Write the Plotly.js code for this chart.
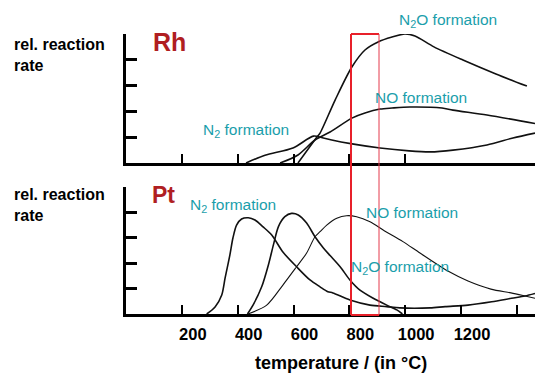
<!DOCTYPE html>
<html>
<head>
<meta charset="utf-8">
<script src="https://cdn.plot.ly/plotly-3.0.1.min.js"></script>
<style>html,body{margin:0;padding:0;background:#fff;}#chart{width:535px;height:376px;}</style>
</head>
<body>
<div id="chart"></div>
<script>
// ---- Data (temperature in °C, relative reaction rate) ----
const tempTicks = [200, 400, 600, 800, 1000, 1200];
const tempTickLabels = ["200", "400", "600", "800", "1000", "1200"];
const extraTempTicks = [1400];
const rateTicks = [1, 2, 3, 4, 5];

// Rh catalyst
const rhN2T  = [430, 498, 598, 671, 700, 737, 810, 910, 1014, 1089, 1171, 1293, 1386, 1465];
const rhN2V  = [0, 0.30, 0.58, 1.04, 0.99, 0.89, 0.74, 0.58, 0.47, 0.43, 0.50, 0.70, 0.97, 1.16];
const rhN2OT = [616, 684, 695, 749, 809, 856, 903, 953, 999, 1035, 1103, 1207, 1325, 1436];
const rhN2OV = [0, 1.01, 1.16, 2.44, 3.72, 4.38, 4.69, 4.88, 5.0, 4.92, 4.50, 3.99, 3.45, 2.98];
const rhNOT  = [552, 616, 677, 731, 809, 856, 910, 953, 1017, 1132, 1171, 1293, 1465];
const rhNOV  = [0, 0.31, 0.89, 1.20, 1.74, 1.94, 2.09, 2.13, 2.17, 2.13, 2.05, 1.86, 1.53];

// Pt catalyst
const ptN2T  = [289, 319, 343, 355, 372, 383, 396, 414, 438, 462, 491, 522, 562, 611, 659, 695, 723, 741, 802, 874, 934, 981, 1089, 1143, 1225, 1310, 1381, 1429, 1465];
const ptN2V  = [0, 0.28, 0.75, 1.42, 2.32, 2.99, 3.50, 3.74, 3.79, 3.70, 3.43, 3.11, 2.44, 1.86, 1.34, 1.07, 0.88, 0.83, 0.55, 0.35, 0.29, 0.24, 0.24, 0.29, 0.35, 0.48, 0.62, 0.71, 0.81];
const ptN2OT = [435, 455, 486, 510, 528, 546, 569, 593, 617, 647, 677, 707, 731, 767, 802, 838, 884, 934, 970, 990];
const ptN2OV = [0, 0.35, 1.07, 1.93, 2.72, 3.44, 3.83, 3.96, 3.90, 3.58, 3.04, 2.60, 2.30, 1.86, 1.34, 0.94, 0.63, 0.35, 0.16, 0];
const ptNOT  = [437, 504, 562, 611, 647, 677, 695, 719, 755, 790, 826, 874, 925, 992, 1053, 1153, 1225, 1307, 1379, 1429, 1465];
const ptNOV  = [0, 0.35, 1.14, 1.86, 2.40, 3.04, 3.24, 3.50, 3.77, 3.87, 3.83, 3.63, 3.28, 2.85, 2.40, 1.69, 1.30, 0.98, 0.83, 0.71, 0.62];

const FONT = "Liberation Sans, Arial, sans-serif";
const TEAL = "#1a9eab";
const DARKRED = "#b01e22";
const RED = "#e8202a";

function curve(x, y, xa, ya, w) {
  return {x: x, y: y, xaxis: xa, yaxis: ya, type: "scatter", mode: "lines",
          line: {color: "#111", width: w, shape: "spline", smoothing: 0.8},
          cliponaxis: false, hoverinfo: "skip"};
}

const data = [
  curve(rhN2T, rhN2V, "x", "y", 1.6),
  curve(rhN2OT, rhN2OV, "x", "y", 1.6),
  curve(rhNOT, rhNOV, "x", "y", 1.6),
  curve(ptN2T, ptN2V, "x2", "y2", 1.6),
  curve(ptN2OT, ptN2OV, "x2", "y2", 1.6),
  curve(ptNOT, ptNOV, "x2", "y2", 1.1)
];

const axX = {range: [0, 1465], showline: true, linewidth: 3, linecolor: "#000",
             ticks: "inside", ticklen: 9, tickwidth: 2, tickcolor: "#000",
             showgrid: false, zeroline: false, fixedrange: true};
const axY = {range: [0, 5], showline: true, linewidth: 3, linecolor: "#000",
             ticks: "inside", ticklen: 11, tickwidth: 3, tickcolor: "#000",
             tickvals: rateTicks, showticklabels: false,
             showgrid: false, zeroline: false, fixedrange: true};

const px = v => (v - 126) / 409;
const py = v => (314 - v) / 280;

function ann(text, x, y, opts) {
  return Object.assign({text: text, x: px(x), y: py(y), xref: "paper", yref: "paper",
    showarrow: false, xanchor: "center", yanchor: "middle",
    font: {family: FONT, size: 15.5, color: TEAL}}, opts || {});
}

const layout = {
  width: 535, height: 376,
  margin: {l: 126, r: 0, t: 34, b: 62},
  paper_bgcolor: "#fff", plot_bgcolor: "#fff",
  showlegend: false,
  font: {family: FONT, color: "#000"},
  xaxis: Object.assign({}, axX, {anchor: "y", domain: [0, 1], tickvals: tempTicks.slice(0, 5), showticklabels: false}),
  yaxis: Object.assign({}, axY, {anchor: "x", domain: [0.5393, 1]}),
  xaxis2: Object.assign({}, axX, {anchor: "y2", domain: [0, 1], tickvals: tempTicks,
           ticktext: tempTickLabels.map(t => "<b>" + t + "</b>"),
           ticklabelshift: 11, ticklabelstandoff: 3,
           tickfont: {family: FONT, size: 16.5, color: "#000"},
           minor: {tickvals: extraTempTicks, ticks: "inside", ticklen: 9, tickwidth: 2, tickcolor: "#000", showgrid: false}}),
  yaxis2: Object.assign({}, axY, {anchor: "x2", domain: [0, 0.4536]}),
  annotations: [
    ann("<b>rel. reaction<br>rate</b>", 12, 55, {xanchor: "left", align: "left", font: {family: FONT, size: 16, color: "#000"}}),
    ann("<b>rel. reaction<br>rate</b>", 12, 205, {xanchor: "left", align: "left", font: {family: FONT, size: 16, color: "#000"}}),
    ann("<b>Rh</b>", 169, 42, {font: {family: FONT, size: 25, color: DARKRED}}),
    ann("<b>Pt</b>", 163, 195, {font: {family: FONT, size: 23, color: DARKRED}}),
    ann("N<sub>2</sub>O formation", 448, 21),
    ann("NO formation", 421, 97),
    ann("N<sub>2</sub> formation", 246, 130),
    ann("N<sub>2</sub> formation", 233, 205),
    ann("NO formation", 412, 212),
    ann("N<sub>2</sub>O formation", 400, 267),
    ann("<b>temperature / (in °C)</b>", 341, 363, {font: {family: FONT, size: 18, color: "#000"}})
  ],
  shapes: [
    {type: "line", xref: "paper", yref: "paper", x0: px(351), x1: px(351), y0: py(315), y1: py(34), line: {color: RED, width: 2}, layer: "above"},
    {type: "line", xref: "paper", yref: "paper", x0: px(351), x1: px(379), y0: py(34), y1: py(34), line: {color: RED, width: 2}, layer: "above"},
    {type: "line", xref: "paper", yref: "paper", x0: px(351), x1: px(379), y0: py(315), y1: py(315), line: {color: RED, width: 2}, layer: "above"},
    {type: "line", xref: "paper", yref: "paper", x0: px(379), x1: px(379), y0: py(315), y1: py(34), line: {color: "#e43a4c", width: 1}, layer: "above"}
  ]
};

Plotly.newPlot("chart", data, layout, {staticPlot: true, displayModeBar: false});
</script>
</body>
</html>
